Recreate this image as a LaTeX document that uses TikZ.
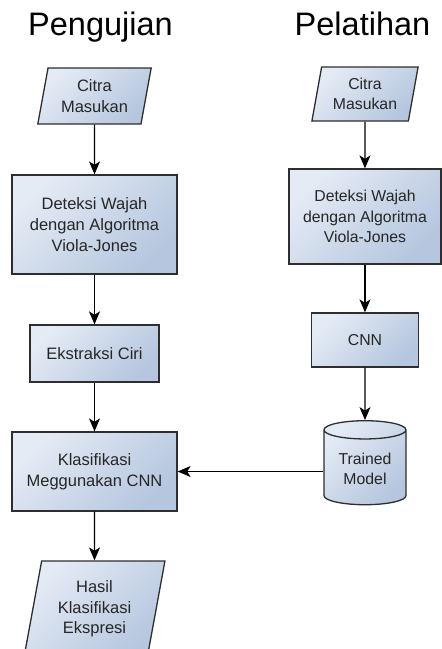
\documentclass[tikz,border=0pt]{standalone}
\usepackage{fontspec}
\setmainfont{Liberation Sans}
\usetikzlibrary{shapes.geometric, arrows.meta}
\usetikzlibrary{positioning, shapes}
\definecolor{boxlight}{HTML}{E4EBF5}
\definecolor{boxdark}{HTML}{B5C6DE}
\definecolor{linegray}{HTML}{2E2E2E}
\newcommand{\ujitext}{\fontsize{16.5}{20.6}\selectfont}
\newcommand{\latihtext}{\fontsize{15.8}{20.3}\selectfont}
\tikzstyle{process} = [rectangle, draw=linegray, line width=1.3pt, top color=boxlight, bottom color=boxdark, shading angle=45, text centered, align=center, text=black!85, inner sep=2pt]
\tikzstyle{io} = [trapezium, trapezium left angle=78, trapezium right angle=102, trapezium stretches=true, draw=linegray, line width=1.3pt, top color=boxlight, bottom color=boxdark, shading angle=45, text centered, align=center, text=black!85, inner sep=2pt]
\tikzstyle{storage} = [cylinder, shape border rotate=90, aspect=0.32, draw=linegray, line width=1.3pt, top color=boxlight, bottom color=boxdark, shading angle=45, text centered, align=center, text=black!85, inner sep=2pt]
\tikzstyle{arrow} = [line width=1.2pt, -{Stealth[length=13pt, width=11pt, inset=3.5pt]}]
\tikzstyle{title} = [font=\fontsize{32.5}{39}\selectfont, anchor=base]

\begin{document}
\begin{tikzpicture}[x=1pt, y=1pt]
            \useasboundingbox (0,0) rectangle (442,-649);
            \node (title_uji) [title] at (100.5,-35) {Pengujian};
            \node (title_latih) [title] at (362.5,-35) {Pelatihan};

            \node (citra_uji) [io, font=\ujitext, minimum width=114pt, minimum height=56pt] at (94.5,-96) {Citra\\Masukan};
            \node (deteksi_uji) [process, font=\ujitext, minimum width=165pt, minimum height=99pt, node distance=128.5pt, below of=citra_uji] {Deteksi Wajah\\dengan Algoritma\\Viola-Jones};
            \node (ekstraksi) [process, font=\ujitext, minimum width=129pt, minimum height=57pt, node distance=129pt, below of=deteksi_uji] {Ekstraksi Ciri};
            \node (klasifikasi) [process, font=\ujitext, minimum width=165pt, minimum height=79pt, node distance=118pt, below of=ekstraksi] {Klasifikasi\\Meggunakan CNN};
            \node (hasil) [io, font=\ujitext, minimum width=141pt, minimum height=96pt, node distance=137.5pt, below of=klasifikasi] {Hasil\\Klasifikasi\\Ekspresi};

            \node (citra_latih) [io, font=\latihtext, minimum width=107pt, minimum height=54pt] at (365,-94) {Citra\\Masukan};
            \node (deteksi_latih) [process, font=\latihtext, minimum width=152pt, minimum height=95pt, node distance=122.5pt, below of=citra_latih] {Deteksi Wajah\\dengan Algoritma\\Viola-Jones};
            \node (cnn) [process, font=\latihtext, minimum width=107pt, minimum height=54pt, node distance=123.5pt, below of=deteksi_latih] {CNN};
            \node (model) [storage, font=\latihtext, minimum width=82pt, minimum height=84pt, node distance=129pt, below of=cnn] {Trained\\Model};

            \draw [arrow] (citra_uji) -- (deteksi_uji);
            \draw [arrow] (deteksi_uji) -- (ekstraksi);
            \draw [arrow] (ekstraksi) -- (klasifikasi);
            \draw [arrow] (klasifikasi) -- (hasil);
            \draw [arrow] (citra_latih) -- (deteksi_latih);
            \draw [arrow] (deteksi_latih) -- (cnn);
            \draw [arrow] (cnn) -- (model);
            \draw [arrow] (model.west |- klasifikasi.east) -- (klasifikasi.east);

            \end{tikzpicture}
\end{document}
